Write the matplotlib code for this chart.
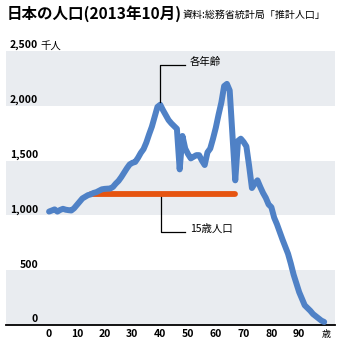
import numpy as np
import matplotlib.pyplot as plt

plt.rcParams['font.family'] = ['Noto Sans CJK JP', 'DejaVu Sans']

# population by single year of age (thousand persons), ages 0-99
ages = np.arange(100)
pop = [1035, 1045, 1055, 1035, 1050, 1060, 1052, 1048, 1045, 1065,
       1095, 1125, 1155, 1170, 1185, 1192, 1205, 1212, 1225, 1238,
       1242, 1244, 1245, 1260, 1290, 1315, 1350, 1390, 1430, 1465,
       1480, 1488, 1525, 1570, 1605, 1665, 1740, 1810, 1900, 1990,
       2010, 1960, 1915, 1870, 1840, 1815, 1790, 1420, 1725, 1610,
       1560, 1520, 1535, 1550, 1550, 1500, 1460, 1575, 1610, 1700,
       1800, 1920, 2030, 2180, 2200, 2140, 1730, 1320, 1680, 1700,
       1670, 1630, 1450, 1250, 1290, 1320, 1260, 1205, 1160, 1100,
       1075, 980, 920, 850, 780, 715, 650, 560, 460, 380,
       300, 240, 180, 155, 130, 100, 80, 60, 40, 28]

ref_age = 15
ref_span = [15, 67]

yticks = [0, 500, 1000, 1500, 2000, 2500]
ytick_labels = ['0', '500', '1,000', '1,500', '2,000', '2,500']
xticks = list(range(0, 100, 10))

blue = '#4f81c6'
orange = '#e65410'
band = '#e9ecf0'

fig = plt.figure(figsize=(3.43, 3.55), dpi=100)
ax = fig.add_axes([0.0175, 0.0845, 0.9592, 0.7718])
ax.set_xlim(-15.5, 102.9)
ax.set_ylim(0, 2500)

# alternating shaded bands
for lo in (0, 1000, 2000):
    ax.axhspan(lo, lo + 500, color=band, lw=0, zorder=0)

ax.plot(ages, pop, color=blue, lw=4.3, solid_capstyle='round',
        solid_joinstyle='round', zorder=3)
ref_val = pop[ref_age]
ax.plot(ref_span, [ref_val, ref_val], color=orange, lw=4.2,
        solid_capstyle='round', zorder=2)

# leader lines and their labels
peak = int(np.argmax(pop[:50]))
ax.plot([peak, peak, 48.9], [pop[peak] + 25, 2372, 2372], color='black', lw=0.9, zorder=4)
ax.text(50.6, 2372, '各年齢', fontsize=7.5, va='baseline', ha='left')
ax.plot([40.2, 40.2, 48.9], [ref_val, 851, 851], color='black', lw=0.9, zorder=1)
ax.text(50.8, 851, '15歳人口', fontsize=7.5, va='baseline', ha='left')

# axes decoration
for s in ('top', 'left', 'right'):
    ax.spines[s].set_visible(False)
ax.spines['bottom'].set_linewidth(1.3)
ax.set_yticks([])
ax.set_xticks(xticks)
ax.set_xticklabels([str(t) for t in xticks], fontsize=7.5, fontweight='bold')
ax.tick_params(axis='x', length=0, pad=3)
ax.text(99.8, -85, '歳', fontsize=6.5, ha='center', va='center')

for v, lab in zip(yticks, ytick_labels):
    ax.text(-3.9, v + 5, lab, fontsize=7.5, fontweight='bold', ha='right', va='bottom')
ax.text(-3.0, 2505, '千人', fontsize=7.5, ha='left', va='bottom')

fig.text(0.02, 0.962, '日本の人口(2013年10月)', fontsize=11.2, fontweight='bold',
         ha='left', va='center')
fig.text(0.533, 0.958, '資料:総務省統計局「推計人口」', fontsize=7.2,
         ha='left', va='center')

fig.savefig('out.png', dpi=100)
